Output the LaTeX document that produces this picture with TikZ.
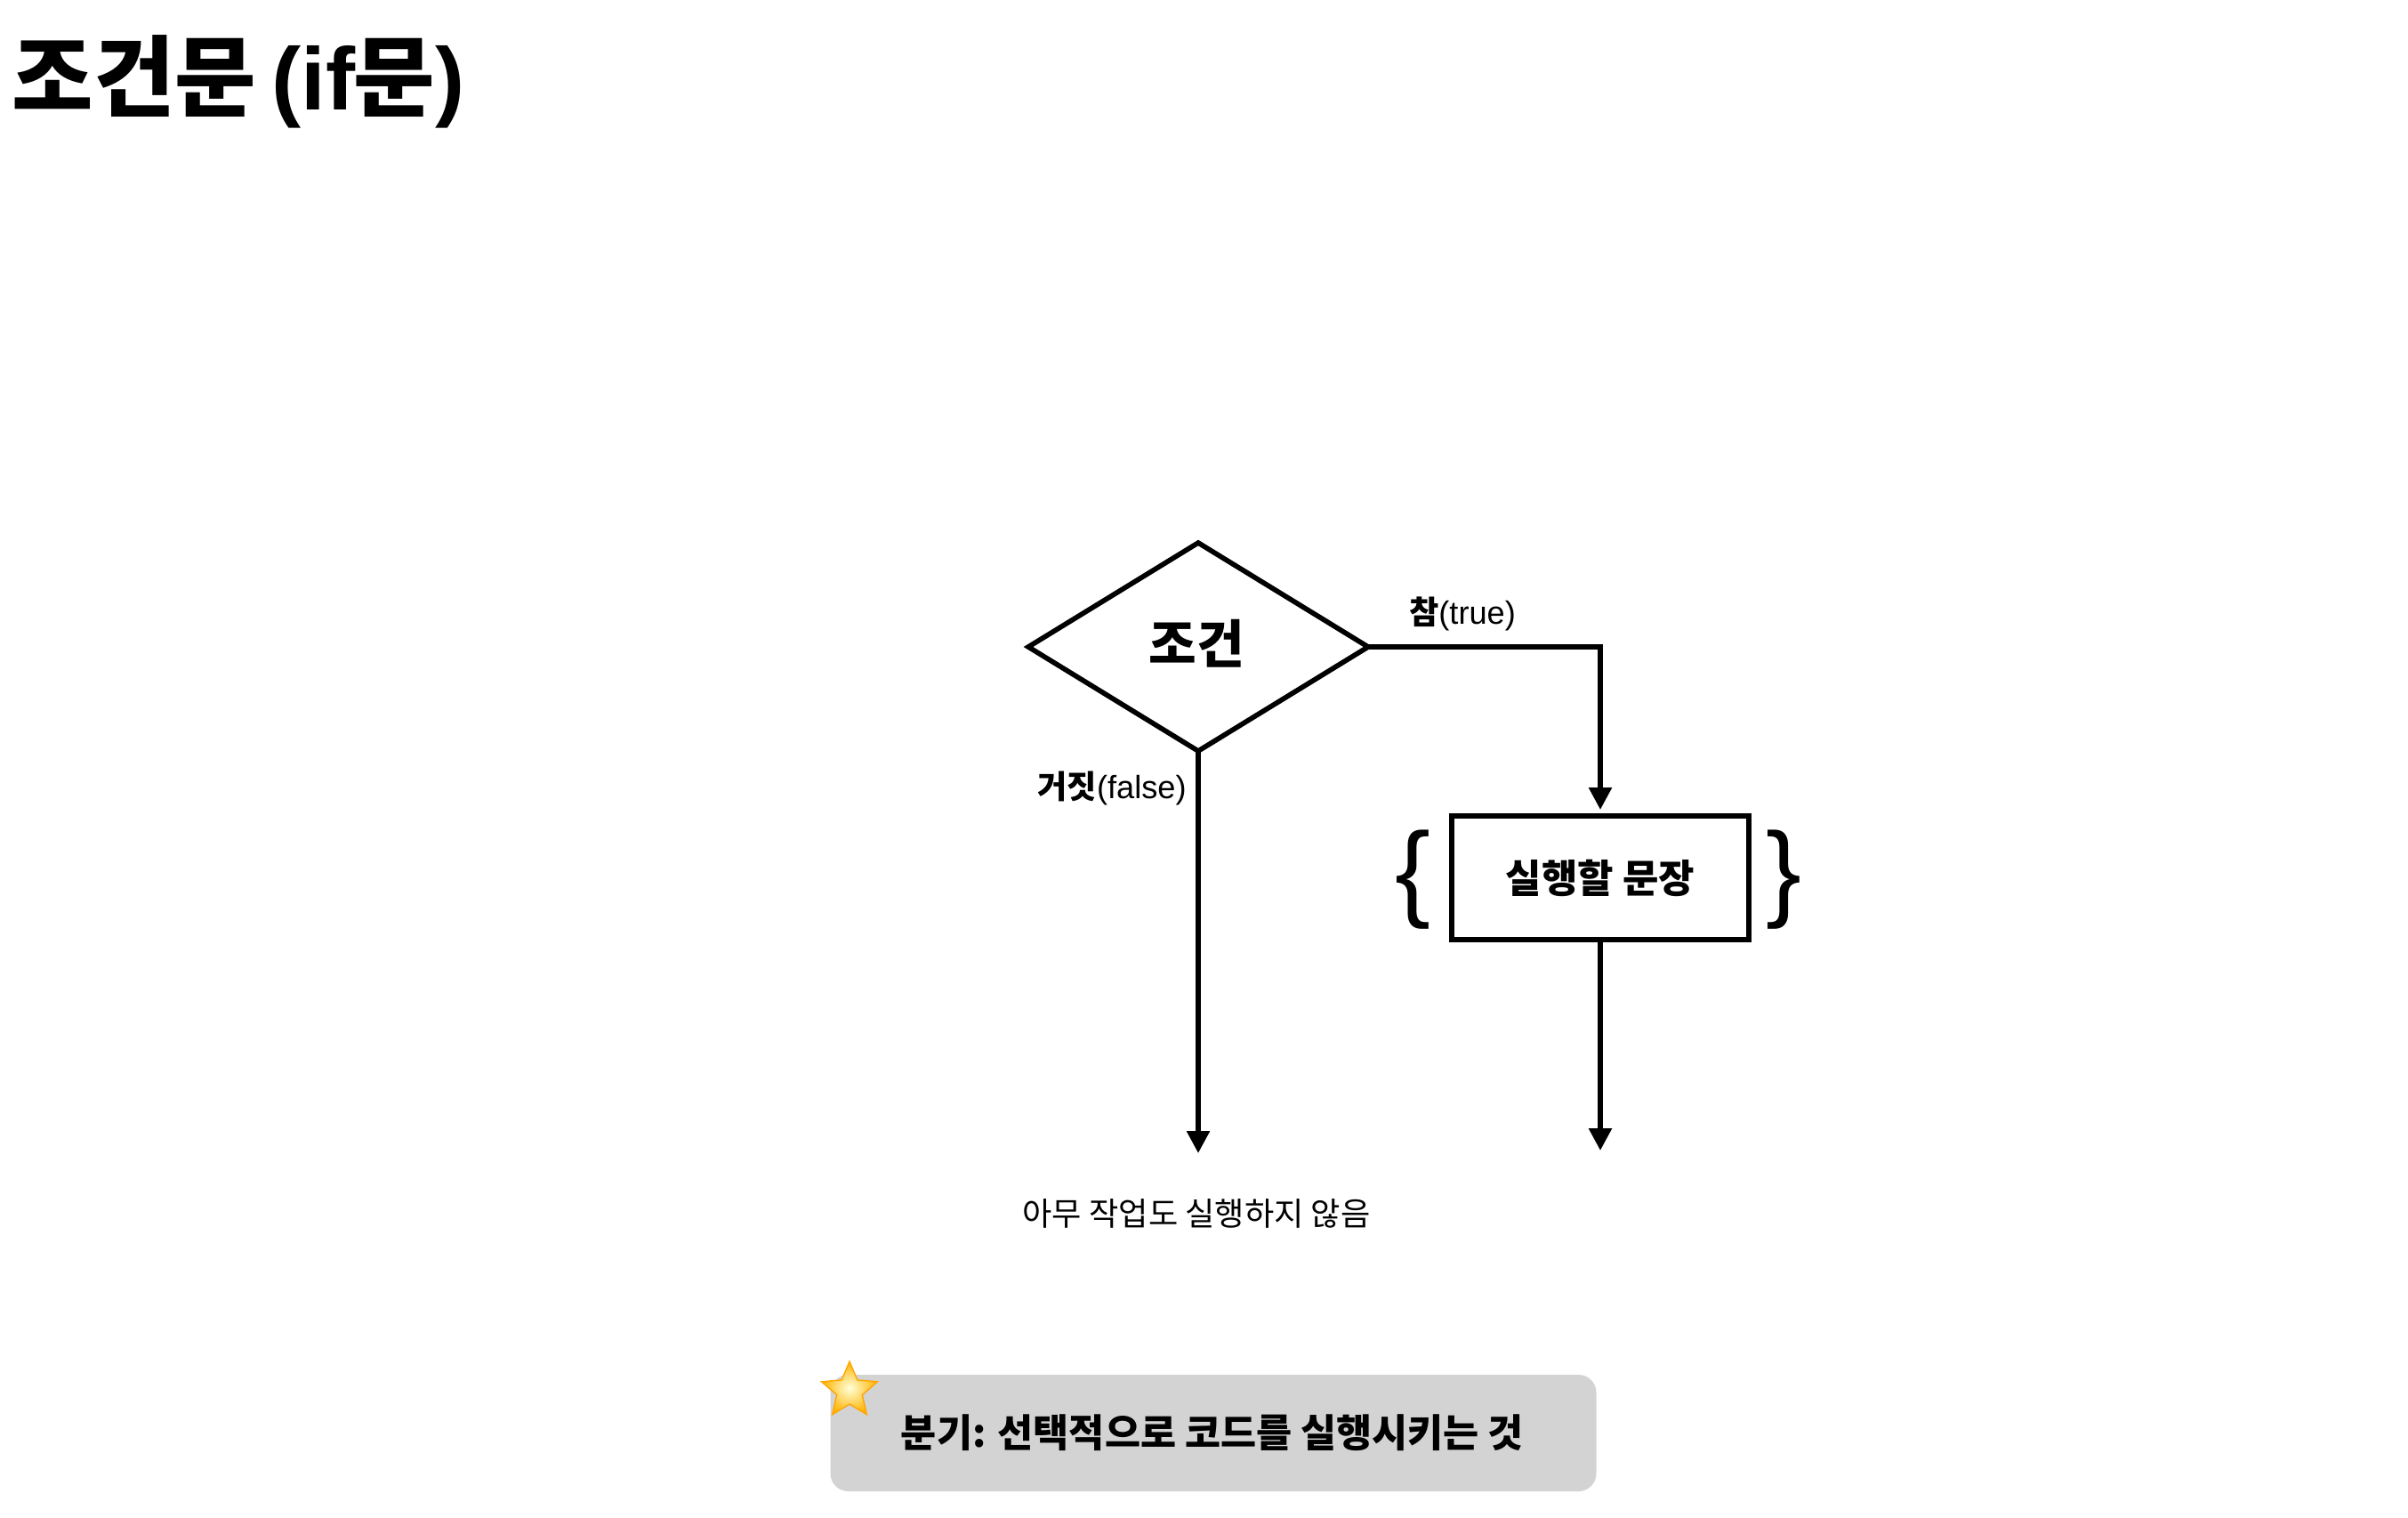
\documentclass[tikz,border=0pt]{standalone}
\usepackage{fontspec}
\setmainfont{Liberation Sans}
\newfontfamily\krfont{Noto Sans CJK KR}
\newfontfamily\latfont{Liberation Sans}
\usetikzlibrary{shapes.geometric,arrows.meta}
\definecolor{notegray}{HTML}{D3D3D3}
\tikzset{
    flowline/.style={line width=1.6pt},
    flowarrow/.style={flowline, -{Triangle[length=0.25cm,width=0.25cm]}},
    sizedtext/.style={inner sep=0pt, font=\fontsize{#1}{#1}\selectfont\krfont},
    boldtext/.style={inner sep=0pt, font=\fontsize{#1}{#1}\selectfont\krfont\bfseries},
}
\begin{document}
\begin{tikzpicture}
    \useasboundingbox (0, 0) rectangle (27.07, -17.05);

    % Title
    \node[boldtext=28.3, anchor=west] (title) at (0.13, -0.92) {조건문\hspace{-1.5pt} {\latfont (if}\hspace{-0.5pt}문{\latfont )}};

    % Condition
    \node[draw, flowline, diamond, aspect=1.63, inner sep=0pt, outer sep=0pt,
        minimum width=3.82cm, minimum height=2.34cm] (cond) at (13.47, -7.27) {};
    \node[boldtext=16.6] (condtext) at (13.45, -7.23) {조건};

    % Statement
    \node[draw, flowline, minimum width=3.34cm, minimum height=1.39cm, outer sep=0pt,
        boldtext=12.5] (body) at (17.99, -9.865) {실행할 문장};
    \node[inner sep=0pt, font=\fontsize{34}{34}\selectfont] (lbrace) at (15.88, -9.89) {\{};
    \node[inner sep=0pt, font=\fontsize{34}{34}\selectfont] (rbrace) at (20.05, -9.89) {\}};

    % Free ends
    \coordinate (falseend) at (13.47, -12.96);
    \coordinate (bodyend) at (17.99, -12.93);

    % Connections
    \draw[flowarrow, shorten >=0.07cm] (cond.east) -| (body.north);
    \draw[flowarrow] (cond.south) -- (falseend);
    \draw[flowarrow] (body.south) -- (bodyend);

    % Labels
    \node[inner sep=0pt, font=\fontsize{10.3}{10.3}\selectfont] (truelabel) at (16.44, -6.90)
        {{\krfont\bfseries 참}(true)};
    \node[inner sep=0pt, font=\fontsize{10.3}{10.3}\selectfont] (falselabel) at (12.50, -8.86)
        {{\krfont\bfseries 거짓}(false)};
    \node[sizedtext=10.3] (nothing) at (13.45, -13.64) {아무 작업도 실행하지 않음};

    % Note
    \node[fill=notegray, rounded corners=0.2cm, minimum width=8.61cm, minimum height=1.31cm,
        inner sep=0pt] (note) at (13.64, -16.105) {};
    \node[boldtext=12.4] (notetext) at (13.63, -16.10) {분기: 선택적으로 코드를 실행시키는 것};
    \node[star, star points=5, star point ratio=2.2, minimum size=0.66cm, inner sep=0pt,
        draw=orange!70!yellow, line width=0.4pt, inner color=yellow!15, outer color=orange!60!yellow] (notestar) at (9.55, -15.63) {};
\end{tikzpicture}
\end{document}
